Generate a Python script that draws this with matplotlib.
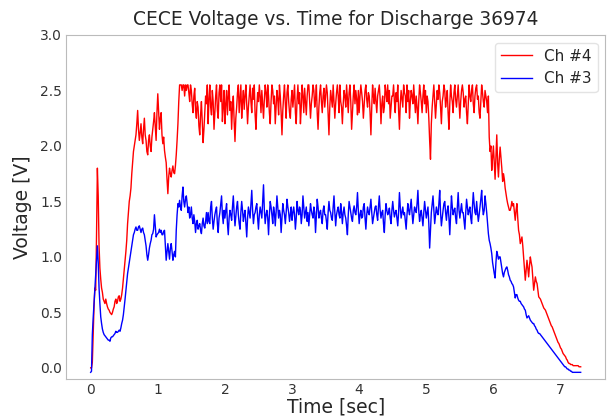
import numpy as np
import matplotlib
matplotlib.use("Agg")
import matplotlib.pyplot as plt

# CECE channel voltages, sampled every 12.5 ms from t = 0
# (one row = 0.25 s)
dt = 0.0125

ch4 = [0.00, 0.00, 0.05, 0.30, 0.55, 0.72, 0.70, 1.20, 1.80, 1.55, 1.10, 0.90, 0.80, 0.72, 0.68, 0.62, 0.60, 0.58, 0.62, 0.58,
       0.55, 0.53, 0.52, 0.50, 0.49, 0.48, 0.50, 0.53, 0.55, 0.60, 0.62, 0.58, 0.60, 0.64, 0.65, 0.60, 0.62, 0.66, 0.72, 0.80,
       0.88, 0.95, 1.05, 1.15, 1.30, 1.40, 1.50, 1.55, 1.62, 1.75, 1.85, 1.95, 2.00, 2.05, 2.10, 2.20, 2.32, 2.15, 2.05, 2.12,
       2.20, 2.08, 2.02, 2.15, 2.25, 2.10, 2.05, 1.95, 1.92, 2.05, 2.10, 2.00, 1.95, 2.08, 2.15, 2.22, 2.30, 2.18, 2.05, 2.30,
       2.47, 2.30, 2.15, 2.25, 2.30, 2.10, 2.02, 2.08, 1.96, 1.90, 1.85, 1.70, 1.57, 1.72, 1.80, 1.75, 1.72, 1.78, 1.82, 1.76,
       1.75, 1.82, 1.92, 2.05, 2.20, 2.40, 2.55, 2.55, 2.55, 2.50, 2.55, 2.55, 2.45, 2.55, 2.50, 2.55, 2.55, 2.48, 2.40, 2.55,
       2.50, 2.38, 2.30, 2.45, 2.52, 2.32, 2.25, 2.40, 2.35, 2.18, 2.10, 2.28, 2.40, 2.22, 2.03, 2.15, 2.30, 2.45, 2.38, 2.55,
       2.20, 2.42, 2.55, 2.35, 2.28, 2.50, 2.40, 2.15, 2.30, 2.45, 2.55, 2.32, 2.25, 2.48, 2.55, 2.40, 2.55, 2.22, 2.35, 2.50,
       2.20, 2.38, 2.50, 2.28, 2.45, 2.55, 2.32, 2.40, 2.15, 2.35, 2.45, 2.22, 2.04, 2.25, 2.35, 2.48, 2.55, 2.30, 2.42, 2.55,
       2.25, 2.40, 2.50, 2.33, 2.45, 2.55, 2.38, 2.20, 2.35, 2.45, 2.55, 2.40, 2.30, 2.52, 2.42, 2.55, 2.28, 2.15, 2.35, 2.48,
       2.40, 2.55, 2.45, 2.30, 2.50, 2.38, 2.25, 2.42, 2.55, 2.48, 2.35, 2.55, 2.45, 2.30, 2.20, 2.40, 2.55, 2.50, 2.38, 2.45,
       2.20, 2.35, 2.50, 2.42, 2.28, 2.55, 2.45, 2.30, 2.10, 2.32, 2.45, 2.55, 2.38, 2.25, 2.48, 2.55, 2.40, 2.30, 2.25, 2.42,
       2.50, 2.35, 2.45, 2.55, 2.30, 2.20, 2.42, 2.55, 2.38, 2.48, 2.20, 2.35, 2.55, 2.45, 2.30, 2.52, 2.40, 2.28, 2.45, 2.55,
       2.55, 2.40, 2.25, 2.38, 2.45, 2.55, 2.50, 2.35, 2.42, 2.55, 2.30, 2.15, 2.35, 2.48, 2.55, 2.40, 2.30, 2.45, 2.52, 2.35,
       2.45, 2.55, 2.48, 2.30, 2.10, 2.35, 2.50, 2.42, 2.35, 2.55, 2.40, 2.25, 2.38, 2.48, 2.55, 2.45, 2.30, 2.55, 2.40, 2.35,
       2.20, 2.38, 2.50, 2.45, 2.35, 2.55, 2.42, 2.30, 2.48, 2.55, 2.40, 2.15, 2.30, 2.45, 2.55, 2.38, 2.50, 2.42, 2.28, 2.50,
       2.30, 2.45, 2.55, 2.48, 2.40, 2.25, 2.38, 2.50, 2.55, 2.42, 2.35, 2.48, 2.45, 2.30, 2.10, 2.35, 2.55, 2.45, 2.38, 2.52,
       2.40, 2.30, 2.45, 2.50, 2.55, 2.42, 2.20, 2.38, 2.45, 2.30, 2.35, 2.55, 2.48, 2.40, 2.55, 2.38, 2.50, 2.25, 2.35, 2.45,
       2.45, 2.55, 2.40, 2.30, 2.48, 2.40, 2.55, 2.32, 2.15, 2.38, 2.50, 2.42, 2.35, 2.55, 2.48, 2.45, 2.30, 2.55, 2.40, 2.50,
       2.25, 2.40, 2.50, 2.45, 2.38, 2.55, 2.42, 2.30, 2.45, 2.35, 2.20, 2.40, 2.55, 2.48, 2.40, 2.30, 2.45, 2.55, 2.38, 2.50,
       2.30, 2.45, 2.40, 2.25, 2.05, 1.88, 2.20, 2.35, 2.45, 2.55, 2.40, 2.25, 2.38, 2.50, 2.42, 2.55, 2.48, 2.35, 2.20, 2.40,
       2.45, 2.55, 2.50, 2.35, 2.42, 2.50, 2.30, 2.15, 2.38, 2.55, 2.45, 2.40, 2.30, 2.48, 2.55, 2.42, 2.35, 2.45, 2.55, 2.40,
       2.25, 2.40, 2.50, 2.55, 2.48, 2.35, 2.42, 2.45, 2.30, 2.20, 2.38, 2.55, 2.45, 2.40, 2.50, 2.55, 2.38, 2.30, 2.45, 2.52,
       2.55, 2.42, 2.45, 2.30, 2.25, 2.40, 2.55, 2.48, 2.40, 2.35, 2.50, 2.45, 2.40, 2.30, 2.45, 2.08, 1.95, 2.00, 1.78, 1.90,
       2.00, 1.85, 1.70, 1.90, 2.10, 1.85, 1.72, 1.88, 1.99, 1.90, 1.80, 1.68, 1.75, 1.70, 1.62, 1.57, 1.52, 1.48, 1.45, 1.42,
       1.42, 1.45, 1.50, 1.46, 1.48, 1.40, 1.33, 1.42, 1.48, 1.35, 1.24, 1.20, 1.12, 1.15, 1.18, 1.10, 1.00, 0.90, 0.79, 0.88,
       0.97, 0.90, 0.82, 0.92, 1.00, 0.95, 0.91, 0.80, 0.70, 0.76, 0.82, 0.78, 0.76, 0.70, 0.64, 0.63, 0.62, 0.60, 0.58, 0.56,
       0.54, 0.53, 0.52, 0.50, 0.48, 0.46, 0.44, 0.42, 0.40, 0.38, 0.37, 0.35, 0.33, 0.31, 0.29, 0.27, 0.25, 0.23, 0.22, 0.20,
       0.18, 0.17, 0.15, 0.13, 0.12, 0.11, 0.10, 0.08, 0.07, 0.05, 0.04, 0.04, 0.03, 0.03, 0.03, 0.02, 0.02, 0.02, 0.02, 0.02,
       0.02, 0.02, 0.01, 0.01, 0.01]

ch3 = [-0.04, -0.03, 0.30, 0.45, 0.58, 0.72, 0.85, 0.98, 1.10, 0.95, 0.72, 0.58, 0.46, 0.40, 0.35, 0.32, 0.30, 0.29, 0.28, 0.27,
       0.26, 0.25, 0.25, 0.24, 0.27, 0.28, 0.28, 0.29, 0.30, 0.31, 0.33, 0.32, 0.32, 0.33, 0.34, 0.33, 0.36, 0.40, 0.43, 0.48,
       0.55, 0.62, 0.70, 0.78, 0.85, 0.90, 0.95, 1.00, 1.05, 1.10, 1.15, 1.20, 1.22, 1.25, 1.27, 1.24, 1.24, 1.27, 1.28, 1.25,
       1.22, 1.25, 1.26, 1.22, 1.20, 1.15, 1.10, 1.02, 0.97, 1.02, 1.08, 1.12, 1.15, 1.20, 1.21, 1.25, 1.38, 1.28, 1.18, 1.20,
       1.21, 1.22, 1.25, 1.22, 1.24, 1.20, 1.20, 1.23, 1.24, 1.10, 0.97, 1.05, 1.12, 1.05, 0.98, 1.08, 1.12, 1.05, 0.97, 1.02,
       1.05, 1.00, 1.24, 1.38, 1.48, 1.45, 1.51, 1.45, 1.42, 1.55, 1.63, 1.50, 1.45, 1.52, 1.55, 1.48, 1.40, 1.45, 1.35, 1.38,
       1.45, 1.35, 1.30, 1.38, 1.32, 1.22, 1.30, 1.33, 1.25, 1.28, 1.30, 1.24, 1.21, 1.30, 1.35, 1.28, 1.26, 1.32, 1.40, 1.30,
       1.40, 1.32, 1.30, 1.45, 1.50, 1.35, 1.25, 1.32, 1.38, 1.42, 1.45, 1.30, 1.22, 1.35, 1.40, 1.48, 1.55, 1.38, 1.30, 1.42,
       1.35, 1.42, 1.48, 1.30, 1.20, 1.35, 1.42, 1.38, 1.33, 1.45, 1.55, 1.40, 1.28, 1.36, 1.45, 1.50, 1.38, 1.30, 1.25, 1.40,
       1.50, 1.42, 1.32, 1.38, 1.42, 1.30, 1.18, 1.35, 1.45, 1.40, 1.35, 1.48, 1.60, 1.42, 1.30, 1.38, 1.40, 1.45, 1.48, 1.35,
       1.25, 1.38, 1.45, 1.40, 1.35, 1.50, 1.65, 1.42, 1.30, 1.38, 1.42, 1.35, 1.20, 1.38, 1.50, 1.45, 1.38, 1.30, 1.45, 1.40,
       1.28, 1.40, 1.55, 1.45, 1.35, 1.42, 1.38, 1.22, 1.35, 1.48, 1.42, 1.38, 1.30, 1.40, 1.52, 1.45, 1.40, 1.32, 1.38, 1.45,
       1.33, 1.40, 1.45, 1.38, 1.25, 1.35, 1.50, 1.42, 1.38, 1.45, 1.42, 1.30, 1.38, 1.55, 1.45, 1.35, 1.40, 1.45, 1.32, 1.40,
       1.28, 1.38, 1.48, 1.42, 1.38, 1.35, 1.45, 1.40, 1.22, 1.38, 1.52, 1.45, 1.35, 1.40, 1.42, 1.35, 1.30, 1.42, 1.46, 1.38,
       1.38, 1.32, 1.25, 1.40, 1.50, 1.42, 1.40, 1.35, 1.33, 1.45, 1.55, 1.40, 1.28, 1.38, 1.42, 1.45, 1.38, 1.35, 1.48, 1.40,
       1.30, 1.40, 1.45, 1.38, 1.35, 1.28, 1.20, 1.38, 1.50, 1.45, 1.40, 1.35, 1.32, 1.42, 1.46, 1.40, 1.38, 1.45, 1.58, 1.42,
       1.30, 1.38, 1.42, 1.35, 1.36, 1.45, 1.48, 1.35, 1.25, 1.38, 1.45, 1.40, 1.38, 1.45, 1.52, 1.40, 1.30, 1.35, 1.40, 1.45,
       1.46, 1.38, 1.33, 1.45, 1.55, 1.42, 1.35, 1.40, 1.42, 1.30, 1.22, 1.38, 1.48, 1.42, 1.38, 1.40, 1.44, 1.35, 1.30, 1.42,
       1.50, 1.42, 1.36, 1.40, 1.42, 1.35, 1.28, 1.40, 1.58, 1.45, 1.35, 1.40, 1.45, 1.38, 1.40, 1.32, 1.25, 1.38, 1.48, 1.42,
       1.38, 1.45, 1.52, 1.40, 1.30, 1.38, 1.45, 1.42, 1.40, 1.48, 1.60, 1.42, 1.32, 1.38, 1.42, 1.35, 1.28, 1.40, 1.50, 1.42,
       1.35, 1.40, 1.45, 1.30, 1.08, 1.25, 1.40, 1.48, 1.55, 1.42, 1.30, 1.38, 1.45, 1.40, 1.38, 1.48, 1.60, 1.40, 1.28, 1.35,
       1.42, 1.48, 1.50, 1.40, 1.33, 1.42, 1.46, 1.35, 1.20, 1.38, 1.55, 1.45, 1.38, 1.42, 1.44, 1.35, 1.30, 1.45, 1.58, 1.42,
       1.35, 1.42, 1.48, 1.40, 1.40, 1.32, 1.25, 1.40, 1.52, 1.45, 1.38, 1.42, 1.45, 1.35, 1.30, 1.45, 1.58, 1.48, 1.40, 1.38,
       1.50, 1.40, 1.32, 1.38, 1.45, 1.52, 1.60, 1.45, 1.38, 1.42, 1.55, 1.48, 1.40, 1.30, 1.21, 1.15, 1.12, 1.08, 1.03, 0.95,
       0.90, 0.85, 0.81, 0.95, 1.05, 1.02, 0.98, 1.00, 1.00, 0.95, 0.90, 0.85, 0.82, 0.86, 0.88, 0.90, 0.91, 0.88, 0.84, 0.82,
       0.79, 0.78, 0.76, 0.75, 0.73, 0.68, 0.63, 0.66, 0.66, 0.63, 0.61, 0.60, 0.60, 0.58, 0.57, 0.56, 0.55, 0.53, 0.52, 0.48,
       0.45, 0.46, 0.47, 0.45, 0.43, 0.42, 0.41, 0.40, 0.40, 0.38, 0.37, 0.35, 0.34, 0.32, 0.31, 0.31, 0.30, 0.29, 0.28, 0.27,
       0.26, 0.25, 0.24, 0.23, 0.22, 0.21, 0.20, 0.19, 0.18, 0.17, 0.16, 0.15, 0.14, 0.13, 0.12, 0.11, 0.10, 0.09, 0.08, 0.07,
       0.06, 0.05, 0.04, 0.03, 0.02, 0.01, 0.01, 0.00, -0.01, -0.01, -0.02, -0.02, -0.03, -0.03, -0.04, -0.04, -0.04, -0.04, -0.04, -0.04,
       -0.04, -0.04, -0.04, -0.04, -0.04]

t4 = np.arange(len(ch4)) * dt
t3 = np.arange(len(ch3)) * dt

plt.rcParams['text.color'] = '#262626'
plt.rcParams['axes.labelcolor'] = '#262626'
plt.rcParams['xtick.color'] = '#333333'
plt.rcParams['ytick.color'] = '#333333'

fig = plt.figure(figsize=(6.07, 4.19), dpi=100)
ax = fig.add_axes([0.109, 0.0955, 0.888, 0.821])

ax.plot(t4, ch4, color='red', lw=1.0, label='Ch #4')
ax.plot(t3, ch3, color='blue', lw=1.0, label='Ch #3')

ax.set_ylim(-0.1, 3.0)
ax.set_xticks(range(0, 8))
ax.set_yticks([0.0, 0.5, 1.0, 1.5, 2.0, 2.5, 3.0])
ax.tick_params(labelsize=10, length=0, pad=3)
for s in ax.spines.values():
    s.set_color('#bbbbbb')

ax.set_title("CECE Voltage vs. Time for Discharge 36974", fontsize=13.4, pad=7)
ax.set_xlabel("Time [sec]", fontsize=13.5, labelpad=0)
ax.set_ylabel("Voltage [V]", fontsize=13.5, labelpad=6)
leg = ax.legend(loc='upper right', fontsize=11)
leg.get_frame().set_edgecolor('#dddddd')

fig.savefig("out.png", dpi=100)
